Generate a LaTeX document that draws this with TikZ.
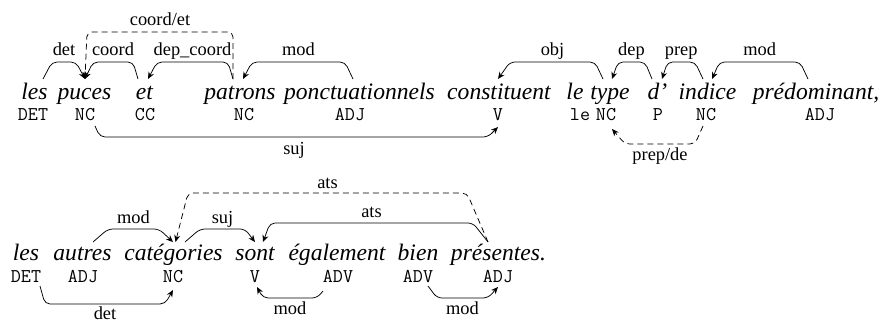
\documentclass[tikz,border=0pt]{standalone}
\usepackage{fontspec}
\setmainfont{Liberation Serif}
\usetikzlibrary{arrows.meta,calc}
\newcommand\wfont{\fontsize{23.6}{26}\selectfont\itshape}
\newcommand\lfont{\fontsize{18.4}{20}\selectfont}
\newcommand\tfont{\fontsize{19.5}{21}\selectfont\ttfamily}
\begin{document}
\begin{tikzpicture}[x=1pt,y=-1pt,
  word/.style={font=\wfont,inner sep=0pt,anchor=base},
  tag/.style={font=\tfont,inner sep=0pt,anchor=base},
  lab/.style={font=\lfont,inner sep=0pt,anchor=base},
  arc/.style={draw,line width=0.75pt,rounded corners=5pt,-{Stealth[length=7pt,width=6pt]}},
  darc/.style={arc,dash pattern=on 6pt off 4pt}]
\useasboundingbox (0,0) rectangle (882,322);
% sentence 1 words
\node[word] (w1) at (34.5,99) {les};
\node[word] (w2) at (84.5,99) {puces};
\node[word] (w3) at (144.5,99) {et};
\node[word] (w4) at (240,99) {patrons};
\node[word] (w5) at (359.5,99) {ponctuationnels};
\node[word] (w6) at (499,99) {constituent};
\node[word] (w7) at (575,99) {le};
\node[word] (w8) at (610,99) {type};
\node[word] (w9) at (657.5,99) {d’};
\node[word] (w10) at (707.5,99) {indice};
\node[word] (w11) at (816,99) {prédominant,};
% tags 1
\node[tag] (t1) at (33,120.5) {DET};
\node[tag] (t2) at (85,120.5) {NC};
\node[tag] (t3) at (145,120.5) {CC};
\node[tag] (t4) at (244,120.5) {NC};
\node[tag] (t5) at (350,120.5) {ADJ};
\node[tag] (t6) at (498,120.5) {V};
\node[tag] (t7) at (580,120.5) {le};
\node[tag] (t8) at (606,120.5) {NC};
\node[tag] (t9) at (658,120.5) {P};
\node[tag] (t10) at (706,120.5) {NC};
\node[tag] (t11) at (820,120.5) {ADJ};
% arcs above sentence 1
\draw[arc] ($(w1.base)+(8.5,-20)$) -- ($(w1.base)+(17.5,-37)$) -- node[lab,yshift=7pt]{det} ($(w2.base)+(-8.5,-37)$) -- ($(w2.base)+(0.5,-20)$);
\draw[arc] ($(w3.base)+(-6.5,-20)$) -- ($(w3.base)+(-11.5,-37)$) -- node[lab,yshift=7pt]{coord} ($(w2.base)+(8.5,-37)$) -- ($(w2.base)+(0.5,-20)$);
\draw[arc] ($(w4.base)+(-7,-20)$) -- ($(w4.base)+(-12,-37)$) -- node[lab,yshift=7pt]{dep\_coord} ($(w3.base)+(12.5,-37)$) -- ($(w3.base)+(3.5,-20)$);
\draw[darc] ($(w4.base)+(-7,-20)$) -- ($(w4.base)+(-7,-67)$) -- node[lab,yshift=7pt]{coord/et} ($(w2.base)+(2.5,-67)$) -- ($(w2.base)+(0.5,-20)$);
\draw[arc] ($(w5.base)+(-6.5,-20)$) -- ($(w5.base)+(-14.5,-37)$) -- node[lab,yshift=7pt]{mod} ($(w4.base)+(12,-37)$) -- ($(w4.base)+(3,-20)$);
\draw[arc] ($(w8.base)+(-7,-20)$) -- ($(w8.base)+(-15,-37)$) -- node[lab,yshift=7pt]{obj} ($(w6.base)+(11,-37)$) -- ($(w6.base)+(-1,-20)$);
\draw[arc] ($(w9.base)+(-5.5,-20)$) -- ($(w9.base)+(-12.5,-37)$) -- node[lab,yshift=7pt]{dep} ($(w8.base)+(8,-37)$) -- ($(w8.base)+(2,-20)$);
\draw[arc] ($(w10.base)+(-4.5,-20)$) -- ($(w10.base)+(-12.5,-37)$) -- node[lab,yshift=7pt]{prep} ($(w9.base)+(10,-37)$) -- ($(w9.base)+(4.5,-20)$);
\draw[arc] ($(w11.base)+(-8,-20)$) -- ($(w11.base)+(-16,-37)$) -- node[lab,yshift=7pt]{mod} ($(w10.base)+(12,-37)$) -- ($(w10.base)+(4.5,-20)$);
% arcs below sentence 1
\draw[arc] ($(t2.base)+(10,5.5)$) -- ($(t2.base)+(15,16.5)$) -- node[lab,yshift=-17pt]{suj} ($(t6.base)+(-10,16.5)$) -- ($(t6.base)+(0,6.5)$);
\draw[darc] ($(t10.base)+(-3,5.5)$) -- ($(t10.base)+(-11,23.5)$) -- node[lab,yshift=-16pt]{prep/de} ($(t8.base)+(19,23.5)$) -- ($(t8.base)+(6,8.5)$);
% sentence 2 words
\node[word] (v1) at (26,260) {les};
\node[word] (v2) at (82.5,260) {autres};
\node[word] (v3) at (173.5,260) {catégories};
\node[word] (v4) at (255,260) {sont};
\node[word] (v5) at (337,260) {également};
\node[word] (v6) at (418,260) {bien};
\node[word] (v7) at (498.5,260) {présentes.};
% tags 2
\node[tag] (u1) at (26,282) {DET};
\node[tag] (u2) at (83,282) {ADJ};
\node[tag] (u3) at (173,282) {NC};
\node[tag] (u4) at (255,282) {V};
\node[tag] (u5) at (338,282) {ADV};
\node[tag] (u6) at (418,282) {ADV};
\node[tag] (u7) at (498,282) {ADJ};
% arcs above sentence 2
\draw[arc] ($(v2.base)+(10.5,-18)$) -- ($(v2.base)+(25.5,-31)$) -- node[lab,yshift=6pt]{mod} ($(v3.base)+(-14.5,-31)$) -- ($(v3.base)+(-0.5,-18)$);
\draw[arc] ($(v3.base)+(11.5,-18)$) -- ($(v3.base)+(26.5,-31)$) -- node[lab,yshift=6pt]{suj} ($(v4.base)+(-10,-31)$) -- ($(v4.base)+(0,-18)$);
\draw[arc] ($(v7.base)+(-10.5,-18)$) -- ($(v7.base)+(-25.5,-37)$) -- node[lab,yshift=6pt]{ats} ($(v4.base)+(15,-37)$) -- ($(v4.base)+(8,-18)$);
\draw[darc] ($(v7.base)+(-10.5,-18)$) -- ($(v7.base)+(-31.5,-67)$) -- node[lab,yshift=5pt]{ats} ($(v3.base)+(14.5,-67)$) -- ($(v3.base)+(2,-18)$);
% arcs below sentence 2
\draw[arc] ($(u1.base)+(14,4)$) -- ($(u1.base)+(19,22)$) -- node[lab,yshift=-15pt]{det} ($(u3.base)+(-8,22)$) -- ($(u3.base)+(0,8)$);
\draw[arc] ($(u5.base)+(-15,9)$) -- ($(u5.base)+(-21,16)$) -- node[lab,yshift=-16pt]{mod} ($(u4.base)+(8,16)$) -- ($(u4.base)+(2,5)$);
\draw[arc] ($(u6.base)+(10,4)$) -- ($(u6.base)+(19,16)$) -- node[lab,yshift=-16pt]{mod} ($(u7.base)+(-10,16)$) -- ($(u7.base)+(0,5)$);
\end{tikzpicture}
\end{document}
